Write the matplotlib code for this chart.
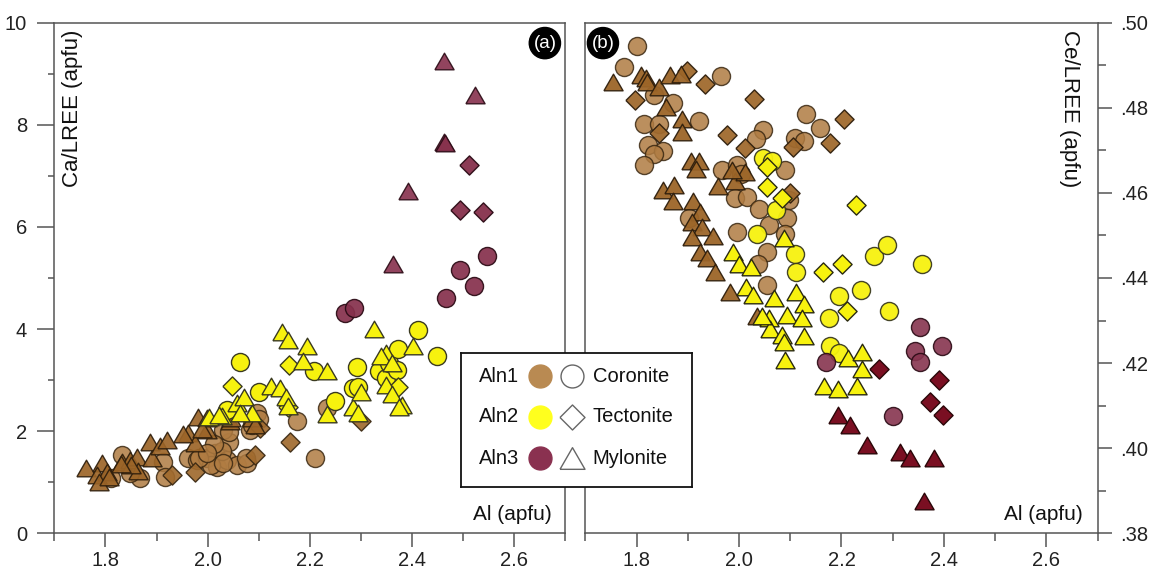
import matplotlib
matplotlib.use("Agg")
import matplotlib.pyplot as plt
from matplotlib.ticker import FixedLocator, FuncFormatter

plt.rcParams['font.family'] = ['Liberation Sans', 'DejaVu Sans']

# ---------------- Panel (a): Ca/LREE vs Al ----------------
a_aln1_cor_x = [1.832, 1.868, 1.848, 1.810, 1.913, 1.917, 1.962, 1.979, 1.998, 2.014, 2.018,
                2.037, 2.041, 2.057, 2.077, 2.031, 2.083, 2.096, 2.100, 2.086, 2.042, 2.028,
                2.012, 2.006, 2.031, 2.075, 1.984, 1.999, 2.174, 2.210, 2.233]
a_aln1_cor_y = [1.53, 1.08, 1.18, 1.08, 1.40, 1.11, 1.47, 1.44, 1.47, 1.57, 1.30,
                1.44, 1.79, 1.34, 1.37, 2.02, 2.02, 2.35, 2.23, 2.12, 1.98, 1.62,
                1.75, 1.33, 1.37, 1.48, 1.48, 1.58, 2.19, 1.47, 2.45]
a_aln1_tec_x = [1.930, 1.975, 2.093, 2.161, 2.103, 2.301]
a_aln1_tec_y = [1.14, 1.21, 1.53, 1.79, 2.06, 2.19]
a_aln1_myl_x = [1.763, 1.793, 1.783, 1.803, 1.787, 1.808, 1.832, 1.848, 1.861, 1.864, 1.850,
                1.891, 1.887, 1.907, 1.920, 1.962, 1.975, 1.951, 1.982, 1.998, 1.999, 1.990,
                2.044, 2.046, 2.086, 2.093, 1.830]
a_aln1_myl_y = [1.27, 1.37, 1.14, 1.21, 1.00, 1.10, 1.40, 1.44, 1.50, 1.22, 1.33,
                1.47, 1.79, 1.70, 1.83, 1.96, 1.76, 1.94, 2.28, 2.02, 2.26, 2.05,
                2.19, 2.26, 2.25, 2.12, 1.36]

a_aln2_cor_x = [2.064, 2.100, 2.037, 2.209, 2.249, 2.285, 2.292, 2.295, 2.336, 2.350, 2.354,
                2.370, 2.372, 2.412, 2.448]
a_aln2_cor_y = [3.36, 2.76, 2.41, 3.18, 2.59, 2.84, 3.25, 2.87, 3.18, 3.05, 3.34,
                3.19, 3.61, 3.98, 3.48]
a_aln2_tec_x = [2.048, 2.160, 2.372, 2.158]
a_aln2_tec_y = [2.89, 3.29, 2.87, 2.48]
a_aln2_myl_x = [2.146, 2.157, 2.194, 2.187, 2.234, 2.124, 2.141, 2.154, 2.158, 2.325, 2.350,
                2.339, 2.361, 2.350, 2.361, 2.381, 2.375, 2.401, 2.285, 2.294, 2.301, 2.234,
                2.057, 2.071, 2.028, 2.002, 2.086, 2.023, 2.063]
a_aln2_myl_y = [3.95, 3.78, 3.66, 3.37, 3.18, 2.89, 2.85, 2.66, 2.49, 4.00, 3.53,
                3.48, 3.34, 2.91, 2.73, 2.51, 2.48, 3.66, 2.48, 2.35, 2.77, 2.34,
                2.55, 2.66, 2.30, 2.28, 2.35, 2.32, 2.35]

a_aln3_cor_x = [2.546, 2.494, 2.522, 2.466, 2.268, 2.286]
a_aln3_cor_y = [5.44, 5.16, 4.84, 4.61, 4.32, 4.41]
a_aln3_tec_x = [2.512, 2.494, 2.538]
a_aln3_tec_y = [7.21, 6.33, 6.30]
a_aln3_myl_x = [2.462, 2.524, 2.462, 2.465, 2.393, 2.362]
a_aln3_myl_y = [9.25, 8.58, 7.67, 7.65, 6.70, 5.27]

# ---------------- Panel (b): Ce/LREE vs Al ----------------
b_aln1_cor_x = [1.800, 1.775, 1.835, 1.872, 1.815, 1.843, 1.921, 1.822, 1.851, 1.835, 1.814,
                1.964, 1.966, 1.993, 2.015, 2.046, 2.034, 1.996, 2.004, 2.040, 2.058, 2.089,
                2.098, 2.094, 2.090, 1.997, 2.054, 2.038, 2.054, 2.109, 2.127, 2.130, 2.159,
                1.903]
b_aln1_cor_y = [0.4946, 0.4895, 0.4831, 0.4812, 0.4762, 0.4763, 0.4770, 0.4713, 0.4698, 0.4691, 0.4665,
                0.4874, 0.4653, 0.4589, 0.4591, 0.4748, 0.4727, 0.4666, 0.4644, 0.4563, 0.4524, 0.4653,
                0.4584, 0.4541, 0.4503, 0.4507, 0.4460, 0.4434, 0.4383, 0.4730, 0.4721, 0.4785, 0.4753,
                0.4541]
b_aln1_tec_x = [1.899, 1.933, 1.797, 1.843, 2.029, 1.976, 2.011, 2.106, 2.177, 2.205, 2.100]
b_aln1_tec_y = [0.4887, 0.4855, 0.4818, 0.4740, 0.4821, 0.4736, 0.4705, 0.4707, 0.4717, 0.4773, 0.4599]
b_aln1_myl_x = [1.754, 1.809, 1.819, 1.820, 1.843, 1.858, 1.865, 1.887, 1.888, 1.889, 1.906,
                1.921, 1.916, 1.852, 1.873, 1.872, 1.911, 1.924, 1.908, 1.928, 1.950, 1.908,
                1.924, 1.937, 1.953, 1.982, 1.960, 1.993, 2.012, 1.986, 2.035]
b_aln1_myl_y = [0.4861, 0.4876, 0.4871, 0.4860, 0.4850, 0.4803, 0.4876, 0.4880, 0.4773, 0.4743, 0.4674,
                0.4674, 0.4655, 0.4606, 0.4619, 0.4580, 0.4582, 0.4555, 0.4531, 0.4520, 0.4499, 0.4496,
                0.4460, 0.4447, 0.4413, 0.4366, 0.4616, 0.4627, 0.4649, 0.4653, 0.4310]

b_aln2_cor_x = [2.047, 2.065, 2.072, 2.036, 2.109, 2.112, 2.195, 2.239, 2.176, 2.178, 2.195,
                2.264, 2.289, 2.293, 2.358]
b_aln2_cor_y = [0.4683, 0.4674, 0.4559, 0.4503, 0.4456, 0.4413, 0.4358, 0.4371, 0.4306, 0.4241, 0.4224,
                0.4451, 0.4477, 0.4323, 0.4433]
b_aln2_tec_x = [2.054, 2.054, 2.083, 2.228, 2.163, 2.201, 2.211]
b_aln2_tec_y = [0.4661, 0.4614, 0.4589, 0.4571, 0.4413, 0.4433, 0.4323]
b_aln2_myl_x = [2.087, 1.989, 2.000, 2.024, 2.014, 2.027, 2.069, 2.112, 2.127, 2.058, 2.094,
                2.123, 2.061, 2.083, 2.087, 2.127, 2.090, 2.213, 2.241, 2.241, 2.166, 2.193,
                2.231, 2.045]
b_aln2_myl_y = [0.4494, 0.4460, 0.4434, 0.4426, 0.4379, 0.4359, 0.4353, 0.4366, 0.4340, 0.4306, 0.4314,
                0.4306, 0.4280, 0.4267, 0.4250, 0.4263, 0.4207, 0.4211, 0.4226, 0.4186, 0.4147, 0.4139,
                0.4147, 0.4310]

b_aln3_cor_x = [2.354, 2.343, 2.354, 2.396, 2.170, 2.300]
b_aln3_cor_y = [0.4284, 0.4229, 0.4203, 0.4241, 0.4203, 0.4076]
b_aln3_tec_x = [2.273, 2.390, 2.372, 2.398]
b_aln3_tec_y = [0.4186, 0.4160, 0.4109, 0.4079]
b_aln3_myl_x = [2.193, 2.217, 2.249, 2.314, 2.333, 2.381, 2.361]
b_aln3_myl_y = [0.4079, 0.4055, 0.4007, 0.3990, 0.3976, 0.3976, 0.3877]

x_major = [1.8, 2.0, 2.2, 2.4, 2.6]
x_minor = [1.7, 1.9, 2.1, 2.3, 2.5, 2.7]
a_y_major = [0, 2, 4, 6, 8, 10]
a_y_minor = [1, 3, 5, 7, 9]
b_y_major = [0.38, 0.40, 0.42, 0.44, 0.46, 0.48, 0.50]
b_y_minor = [0.39, 0.41, 0.43, 0.45, 0.47, 0.49]

group_names = ['Aln1', 'Aln2', 'Aln3']
rock_names = ['Coronite', 'Tectonite', 'Mylonite']
legend_colors = ['#B98A52', '#FFFF1E', '#8A3150']

# marker shapes with width equal to the marker size
TRI = [(-1, -0.866), (1, -0.866), (0, 0.866), (-1, -0.866)]
DIA = [(-1, 0), (0, 1), (1, 0), (0, -1), (-1, 0)]

CIRC_S = 13.0 ** 2
SHAPE_S = 13.8 ** 2

SPINE = '#555555'
FS = 14.5
FS_TITLE = 16.0

fig = plt.figure(figsize=(11.53, 5.74), dpi=100)
ax_a = fig.add_axes([0.0471, 0.0709, 0.4432, 0.8896])
ax_b = fig.add_axes([0.5076, 0.0709, 0.4444, 0.8896])


def pts(ax, x, y, marker, face, edge, s, alpha=1.0, z=3):
    ax.scatter(x, y, marker=marker, s=s, c=face, edgecolors=edge,
               linewidths=1.0, alpha=alpha, zorder=z)


# panel (a)
pts(ax_a, a_aln1_cor_x, a_aln1_cor_y, 'o', '#B07C42', '#3A2812', CIRC_S, 0.85, 3)
pts(ax_a, a_aln1_tec_x, a_aln1_tec_y, DIA, '#A06A2E', '#3A2812', SHAPE_S, 0.92, 3)
pts(ax_a, a_aln1_myl_x, a_aln1_myl_y, TRI, '#9C6528', '#2E1E0C', SHAPE_S, 0.92, 3)
pts(ax_a, a_aln2_cor_x, a_aln2_cor_y, 'o', '#F7F20E', '#3A3A20', CIRC_S, 1.0, 4)
pts(ax_a, a_aln2_tec_x, a_aln2_tec_y, DIA, '#F7F20E', '#3A3A20', SHAPE_S, 1.0, 4)
pts(ax_a, a_aln2_myl_x, a_aln2_myl_y, TRI, '#F7F20E', '#3A3A20', SHAPE_S, 1.0, 4)
pts(ax_a, a_aln3_cor_x, a_aln3_cor_y, 'o', '#86304C', '#2A0A14', CIRC_S, 0.92, 5)
pts(ax_a, a_aln3_tec_x, a_aln3_tec_y, DIA, '#86304C', '#2A0A14', SHAPE_S, 0.95, 5)
pts(ax_a, a_aln3_myl_x, a_aln3_myl_y, TRI, '#86304C', '#2A0A14', SHAPE_S, 0.9, 5)

# panel (b)
pts(ax_b, b_aln1_cor_x, b_aln1_cor_y, 'o', '#B07C42', '#3A2812', CIRC_S, 0.85, 3)
pts(ax_b, b_aln1_tec_x, b_aln1_tec_y, DIA, '#A06A2E', '#2E1E0C', SHAPE_S, 0.95, 3)
pts(ax_b, b_aln1_myl_x, b_aln1_myl_y, TRI, '#9C6528', '#2E1E0C', SHAPE_S, 0.95, 3)
pts(ax_b, b_aln2_cor_x, b_aln2_cor_y, 'o', '#F7F20E', '#3A3A20', CIRC_S, 0.95, 4)
pts(ax_b, b_aln2_tec_x, b_aln2_tec_y, DIA, '#F7F20E', '#2A2A10', SHAPE_S, 1.0, 4)
pts(ax_b, b_aln2_myl_x, b_aln2_myl_y, TRI, '#F7F20E', '#2A2A10', SHAPE_S, 1.0, 4)
pts(ax_b, b_aln3_cor_x, b_aln3_cor_y, 'o', '#86344F', '#2A0A14', CIRC_S, 0.9, 5)
pts(ax_b, b_aln3_tec_x, b_aln3_tec_y, DIA, '#7A0F22', '#2A0608', SHAPE_S, 1.0, 5)
pts(ax_b, b_aln3_myl_x, b_aln3_myl_y, TRI, '#7A0F22', '#2A0608', SHAPE_S, 1.0, 5)

for ax in (ax_a, ax_b):
    ax.set_xlim(1.7, 2.7)
    ax.xaxis.set_major_locator(FixedLocator(x_major))
    ax.xaxis.set_minor_locator(FixedLocator(x_minor))
    ax.xaxis.set_major_formatter(FuncFormatter(lambda v, p: f"{v:.1f}"))
    for sp in ax.spines.values():
        sp.set_color(SPINE)
        sp.set_linewidth(1.1)
    ax.tick_params(axis='both', which='both', direction='out', colors=SPINE,
                   labelcolor='#222222', labelsize=FS, width=1.1)
    ax.tick_params(axis='x', which='major', length=10, pad=2.5)
    ax.tick_params(axis='x', which='minor', length=5.5)

ax_a.set_ylim(0, 10)
ax_a.yaxis.set_major_locator(FixedLocator(a_y_major))
ax_a.yaxis.set_minor_locator(FixedLocator(a_y_minor))
ax_a.tick_params(axis='y', which='major', length=12.5, pad=7)
ax_a.tick_params(axis='y', which='minor', length=4.5)

ax_b.set_ylim(0.38, 0.50)
ax_b.yaxis.set_major_locator(FixedLocator(b_y_major))
ax_b.yaxis.set_minor_locator(FixedLocator(b_y_minor))
ax_b.yaxis.set_major_formatter(FuncFormatter(lambda v, p: f"{v:.2f}".lstrip('0')))
ax_b.yaxis.tick_right()
ax_b.yaxis.set_label_position('right')
ax_b.tick_params(axis='y', which='major', length=10, pad=6)
ax_b.tick_params(axis='y', which='minor', length=6)

# axis titles drawn inside the frames
ax_a.text(0.035, 0.986, 'Ca/LREE (apfu)', transform=ax_a.transAxes, rotation=90,
          ha='center', va='top', fontsize=FS_TITLE, color='#111111')
ax_b.text(0.946, 0.986, 'Ce/LREE (apfu)', transform=ax_b.transAxes, rotation=270,
          ha='center', va='top', fontsize=FS_TITLE, color='#111111')
for ax, xr in ((ax_a, 0.974), (ax_b, 0.971)):
    ax.text(xr, 0.036, 'Al (apfu)', transform=ax.transAxes, ha='right', va='center',
            fontsize=15, color='#111111')

# panel tags
ax_a.text(0.960, 0.960, '(a)', transform=ax_a.transAxes, ha='center', va='center',
          fontsize=13.5, color='white', zorder=10,
          bbox=dict(boxstyle='circle,pad=0.22', fc='black', ec='black'))
ax_b.text(0.0345, 0.960, '(b)', transform=ax_b.transAxes, ha='center', va='center',
          fontsize=13.5, color='white', zorder=10,
          bbox=dict(boxstyle='circle,pad=0.22', fc='black', ec='black'))

# shared key spanning both panels
lg = fig.add_axes([0.3996, 0.152, 0.2005, 0.2335])
lg.set_xlim(0, 1)
lg.set_ylim(0, 1)
lg.set_xticks([])
lg.set_yticks([])
lg.set_facecolor('white')
for sp in lg.spines.values():
    sp.set_color('#111111')
    sp.set_linewidth(1.3)
rows = [0.826, 0.522, 0.214]
open_markers = ['o', DIA, TRI]
open_sizes = [16.5, 18.0, 18.0]
for yrow, gname, col, rname, om, osz in zip(rows, group_names, legend_colors,
                                            rock_names, open_markers, open_sizes):
    lg.text(0.079, yrow, gname, ha='left', va='center', fontsize=FS, color='#111111')
    lg.plot([0.343], [yrow], marker='o', ms=16.5, mfc=col, mec=col, ls='none')
    lg.plot([0.480], [yrow], marker=om, ms=osz, mfc='white', mec='#666666', mew=1.0, ls='none')
    lg.text(0.571, yrow, rname, ha='left', va='center', fontsize=FS, color='#111111')

fig.savefig('out.png', dpi=100)
